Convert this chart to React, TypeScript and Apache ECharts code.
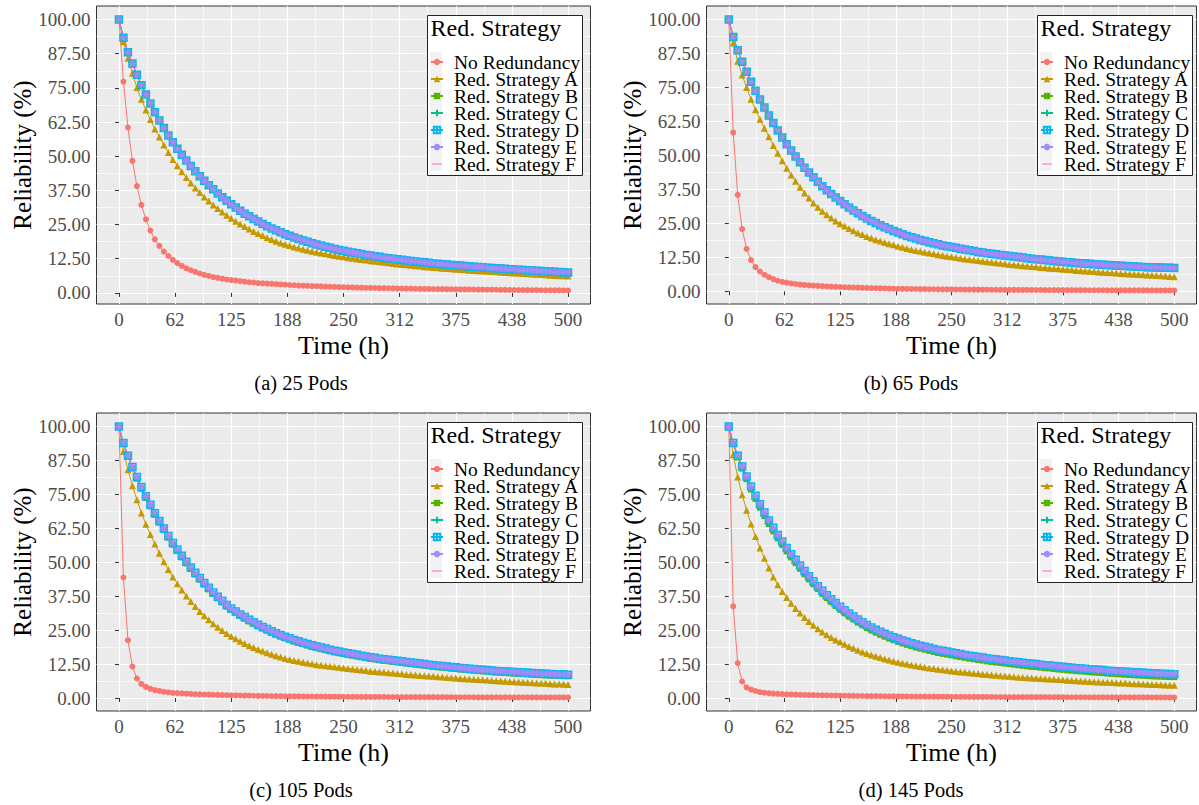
import React, { useEffect, useRef } from 'react';
import * as echarts from 'echarts';

// ---------- data ----------
const time = [
  0, 5, 10, 15, 20, 25, 30, 35, 40, 45,
  50, 55, 60, 65, 70, 75, 80, 85, 90, 95,
  100, 105, 110, 115, 120, 125, 130, 135, 140, 145,
  150, 155, 160, 165, 170, 175, 180, 185, 190, 195,
  200, 205, 210, 215, 220, 225, 230, 235, 240, 245,
  250, 255, 260, 265, 270, 275, 280, 285, 290, 295,
  300, 305, 310, 315, 320, 325, 330, 335, 340, 345,
  350, 355, 360, 365, 370, 375, 380, 385, 390, 395,
  400, 405, 410, 415, 420, 425, 430, 435, 440, 445,
  450, 455, 460, 465, 470, 475, 480, 485, 490, 495, 500,
];

// 25 Pods
const pods25NoRed = [
  100, 77.3, 60.5, 48.3, 39.1, 32.2, 26.9, 22.8, 19.6, 17.2,
  15.1, 13.5, 12.1, 10.9, 9.9, 9.0, 8.3, 7.7, 7.1, 6.6,
  6.2, 5.8, 5.5, 5.2, 4.9, 4.7, 4.5, 4.3, 4.1, 3.9,
  3.8, 3.6, 3.5, 3.4, 3.3, 3.2, 3.1, 3.0, 2.9, 2.8,
  2.7, 2.65, 2.6, 2.5, 2.45, 2.4, 2.3, 2.25, 2.2, 2.15,
  2.1, 2.05, 2.0, 1.95, 1.9, 1.87, 1.83, 1.8, 1.76, 1.73,
  1.7, 1.67, 1.64, 1.61, 1.58, 1.56, 1.53, 1.5, 1.48, 1.46,
  1.44, 1.41, 1.39, 1.37, 1.35, 1.33, 1.31, 1.29, 1.27, 1.25,
  1.23, 1.21, 1.19, 1.17, 1.15, 1.13, 1.11, 1.09, 1.07, 1.05,
  1.04, 1.02, 1.0, 0.99, 0.97, 0.96, 0.94, 0.93, 0.92, 0.91, 0.9,
];
const pods25A = [
  100, 91.9, 85.8, 80.4, 75.1, 70.8, 66.9, 63.4, 60.0, 57.0,
  54.1, 51.4, 48.8, 46.5, 44.3, 42.2, 40.2, 38.4, 36.7, 35.1,
  33.6, 32.2, 30.9, 29.6, 28.4, 27.3, 26.2, 25.2, 24.3, 23.4,
  22.5, 21.7, 21.0, 20.2, 19.5, 18.9, 18.3, 17.8, 17.3, 16.8,
  16.4, 16.0, 15.6, 15.2, 14.9, 14.6, 14.3, 14.0, 13.7, 13.4,
  13.2, 12.9, 12.7, 12.4, 12.2, 12.0, 11.8, 11.6, 11.4, 11.2,
  11.0, 10.8, 10.6, 10.4, 10.3, 10.1, 9.9, 9.8, 9.6, 9.5,
  9.3, 9.2, 9.0, 8.9, 8.8, 8.7, 8.6, 8.5, 8.3, 8.2,
  8.1, 8.0, 7.9, 7.8, 7.7, 7.6, 7.5, 7.4, 7.3, 7.2,
  7.1, 7.0, 6.9, 6.8, 6.7, 6.6, 6.5, 6.4, 6.3, 6.25, 6.2,
];
const pods25Upper = [
  100, 93.3, 88.0, 83.9, 79.8, 76.0, 72.6, 69.3, 66.1, 63.1,
  60.3, 57.6, 55.1, 52.7, 50.5, 48.4, 46.4, 44.5, 42.7, 41.0,
  39.4, 37.9, 36.4, 35.0, 33.7, 32.4, 31.2, 30.1, 29.0, 28.0,
  27.0, 26.1, 25.2, 24.4, 23.6, 22.9, 22.2, 21.5, 20.9, 20.3,
  19.7, 19.2, 18.7, 18.2, 17.7, 17.3, 16.9, 16.5, 16.1, 15.7,
  15.4, 15.1, 14.8, 14.5, 14.2, 13.9, 13.7, 13.4, 13.2, 12.9,
  12.7, 12.5, 12.3, 12.1, 11.9, 11.7, 11.5, 11.3, 11.2, 11.0,
  10.8, 10.7, 10.5, 10.4, 10.2, 10.1, 10.0, 9.8, 9.7, 9.6,
  9.5, 9.4, 9.2, 9.1, 9.0, 8.9, 8.8, 8.7, 8.6, 8.5,
  8.4, 8.3, 8.2, 8.1, 8.0, 7.9, 7.8, 7.7, 7.65, 7.6, 7.5,
];

// 65 Pods
const pods65NoRed = [
  100, 58.4, 35.5, 22.9, 15.6, 11.5, 8.9, 7.3, 6.1, 5.2,
  4.5, 3.9, 3.5, 3.2, 2.9, 2.7, 2.5, 2.35, 2.2, 2.1,
  2.0, 1.9, 1.8, 1.7, 1.65, 1.6, 1.5, 1.45, 1.4, 1.35,
  1.3, 1.25, 1.2, 1.15, 1.1, 1.05, 1.0, 0.98, 0.95, 0.92,
  0.9, 0.87, 0.85, 0.82, 0.8, 0.78, 0.76, 0.74, 0.72, 0.71,
  0.7, 0.68, 0.67, 0.65, 0.64, 0.63, 0.62, 0.6, 0.59, 0.58,
  0.57, 0.56, 0.55, 0.54, 0.53, 0.52, 0.51, 0.5, 0.5, 0.49,
  0.48, 0.47, 0.46, 0.46, 0.45, 0.44, 0.44, 0.43, 0.42, 0.42,
  0.41, 0.4, 0.4, 0.39, 0.39, 0.38, 0.38, 0.37, 0.37, 0.36,
  0.36, 0.35, 0.35, 0.34, 0.34, 0.34, 0.33, 0.33, 0.32, 0.32, 0.32,
];
const pods65A = [
  100, 91.4, 84.7, 79.6, 75.0, 70.7, 66.8, 63.3, 60.0, 56.9,
  53.7, 50.8, 48.0, 45.3, 42.8, 40.5, 38.3, 36.2, 34.3, 32.5,
  30.9, 29.5, 28.2, 27.0, 25.9, 24.9, 24.0, 23.1, 22.3, 21.5,
  20.9, 20.2, 19.6, 19.0, 18.5, 18.0, 17.5, 17.1, 16.6, 16.2,
  15.8, 15.4, 15.0, 14.7, 14.4, 14.1, 13.8, 13.5, 13.2, 12.9,
  12.7, 12.4, 12.2, 11.9, 11.7, 11.5, 11.3, 11.1, 10.9, 10.7,
  10.5, 10.3, 10.1, 9.9, 9.8, 9.6, 9.4, 9.3, 9.1, 9.0,
  8.8, 8.7, 8.5, 8.4, 8.3, 8.1, 8.0, 7.9, 7.7, 7.6,
  7.5, 7.4, 7.3, 7.1, 7.0, 6.9, 6.8, 6.7, 6.6, 6.5,
  6.4, 6.3, 6.2, 6.1, 6.0, 5.9, 5.8, 5.7, 5.6, 5.5, 5.4,
];
const pods65Upper = [
  100, 93.6, 88.7, 84.5, 80.8, 77.1, 73.8, 70.6, 67.6, 64.7,
  61.9, 59.2, 56.6, 54.1, 51.8, 49.6, 47.5, 45.5, 43.7, 42.0,
  40.3, 38.7, 37.2, 35.8, 34.5, 33.2, 32.0, 30.8, 29.7, 28.7,
  27.7, 26.8, 25.9, 25.1, 24.3, 23.6, 22.9, 22.2, 21.6, 21.0,
  20.4, 19.9, 19.4, 18.9, 18.5, 18.1, 17.7, 17.3, 16.9, 16.6,
  16.3, 16.0, 15.7, 15.4, 15.1, 14.8, 14.5, 14.3, 14.0, 13.8,
  13.6, 13.4, 13.2, 13.0, 12.8, 12.6, 12.4, 12.2, 12.0, 11.8,
  11.7, 11.5, 11.3, 11.2, 11.0, 10.9, 10.7, 10.6, 10.4, 10.3,
  10.2, 10.1, 10.0, 9.9, 9.8, 9.7, 9.6, 9.5, 9.4, 9.3,
  9.2, 9.1, 9.0, 8.95, 8.9, 8.85, 8.8, 8.75, 8.7, 8.65, 8.6,
];

// 105 Pods
const pods105NoRed = [
  100, 44.4, 21.3, 11.6, 7.2, 5.2, 4.1, 3.4, 2.9, 2.6,
  2.3, 2.1, 1.9, 1.8, 1.7, 1.6, 1.5, 1.4, 1.35, 1.3,
  1.25, 1.2, 1.15, 1.1, 1.05, 1.0, 0.96, 0.92, 0.89, 0.86,
  0.83, 0.8, 0.77, 0.75, 0.72, 0.7, 0.68, 0.66, 0.64, 0.62,
  0.6, 0.59, 0.57, 0.56, 0.54, 0.53, 0.52, 0.5, 0.49, 0.48,
  0.47, 0.46, 0.45, 0.44, 0.43, 0.42, 0.41, 0.4, 0.4, 0.39,
  0.38, 0.37, 0.37, 0.36, 0.35, 0.35, 0.34, 0.34, 0.33, 0.32,
  0.32, 0.31, 0.31, 0.3, 0.3, 0.29, 0.29, 0.29, 0.28, 0.28,
  0.27, 0.27, 0.27, 0.26, 0.26, 0.25, 0.25, 0.25, 0.24, 0.24,
  0.24, 0.23, 0.23, 0.23, 0.22, 0.22, 0.22, 0.22, 0.21, 0.21, 0.21,
];
const pods105A = [
  100, 90.8, 84.1, 78.2, 73.0, 68.2, 64.0, 60.2, 56.7, 53.3,
  50.2, 47.3, 44.6, 42.1, 39.8, 37.6, 35.6, 33.7, 31.9, 30.3,
  28.8, 27.4, 26.1, 24.9, 23.8, 22.8, 21.8, 20.9, 20.1, 19.3,
  18.6, 17.9, 17.3, 16.7, 16.1, 15.6, 15.1, 14.6, 14.2, 13.8,
  13.5, 13.2, 12.9, 12.6, 12.3, 12.1, 11.9, 11.7, 11.5, 11.3,
  11.1, 10.9, 10.7, 10.5, 10.3, 10.1, 9.9, 9.8, 9.6, 9.5,
  9.3, 9.2, 9.0, 8.9, 8.7, 8.6, 8.5, 8.3, 8.2, 8.1,
  8.0, 7.8, 7.7, 7.6, 7.5, 7.4, 7.2, 7.1, 7.0, 6.9,
  6.8, 6.7, 6.6, 6.5, 6.4, 6.3, 6.2, 6.1, 6.0, 5.9,
  5.8, 5.7, 5.6, 5.5, 5.45, 5.4, 5.3, 5.2, 5.15, 5.1, 5.0,
];
const pods105B = [
  100, 93.7, 88.8, 84.6, 80.8, 77.1, 73.7, 70.6, 67.5, 64.6,
  61.8, 59.1, 56.5, 54.1, 51.8, 49.6, 47.5, 45.5, 43.6, 41.8,
  40.0, 38.3, 36.7, 35.2, 33.7, 32.4, 31.3, 30.2, 29.2, 28.2,
  27.3, 26.4, 25.6, 24.8, 24.0, 23.3, 22.6, 22.0, 21.4, 20.8,
  20.3, 19.8, 19.3, 18.8, 18.4, 18.0, 17.6, 17.2, 16.8, 16.5,
  16.2, 15.9, 15.6, 15.3, 15.0, 14.7, 14.4, 14.2, 13.9, 13.7,
  13.5, 13.3, 13.1, 12.9, 12.7, 12.5, 12.3, 12.1, 11.9, 11.7,
  11.5, 11.3, 11.2, 11.0, 10.8, 10.7, 10.5, 10.4, 10.2, 10.1,
  9.9, 9.8, 9.7, 9.5, 9.4, 9.3, 9.2, 9.1, 9.0, 8.9,
  8.8, 8.7, 8.6, 8.5, 8.4, 8.3, 8.25, 8.2, 8.1, 8.05, 8.0,
];
const pods105Upper = [
  100, 93.9, 89.2, 85.1, 81.4, 77.7, 74.3, 71.2, 68.1, 65.2,
  62.4, 59.7, 57.1, 54.7, 52.4, 50.2, 48.1, 46.1, 44.2, 42.4,
  40.6, 38.9, 37.3, 35.8, 34.3, 33.0, 31.9, 30.8, 29.8, 28.8,
  27.9, 27.0, 26.2, 25.4, 24.6, 23.9, 23.2, 22.6, 22.0, 21.4,
  20.9, 20.4, 19.9, 19.4, 19.0, 18.6, 18.2, 17.8, 17.4, 17.1,
  16.8, 16.5, 16.2, 15.9, 15.6, 15.3, 15.0, 14.8, 14.5, 14.3,
  14.1, 13.9, 13.7, 13.5, 13.3, 13.1, 12.9, 12.7, 12.5, 12.3,
  12.1, 11.9, 11.8, 11.6, 11.4, 11.3, 11.1, 11.0, 10.8, 10.7,
  10.5, 10.4, 10.3, 10.1, 10.0, 9.9, 9.8, 9.7, 9.6, 9.5,
  9.4, 9.3, 9.2, 9.1, 9.0, 8.9, 8.85, 8.8, 8.7, 8.65, 8.6,
];

// 145 Pods
const pods145NoRed = [
  100, 33.8, 12.9, 6.1, 3.9, 3.1, 2.6, 2.2, 1.95, 1.8,
  1.65, 1.55, 1.45, 1.38, 1.32, 1.26, 1.2, 1.15, 1.11, 1.07,
  1.03, 1.0, 0.97, 0.94, 0.91, 0.88, 0.85, 0.83, 0.8, 0.78,
  0.76, 0.74, 0.72, 0.7, 0.68, 0.66, 0.65, 0.63, 0.62, 0.6,
  0.59, 0.58, 0.56, 0.55, 0.54, 0.53, 0.52, 0.51, 0.5, 0.49,
  0.48, 0.47, 0.46, 0.45, 0.44, 0.43, 0.42, 0.42, 0.41, 0.4,
  0.39, 0.39, 0.38, 0.37, 0.37, 0.36, 0.35, 0.35, 0.34, 0.34,
  0.33, 0.33, 0.32, 0.32, 0.31, 0.31, 0.3, 0.3, 0.29, 0.29,
  0.29, 0.28, 0.28, 0.27, 0.27, 0.27, 0.26, 0.26, 0.26, 0.25,
  0.25, 0.25, 0.24, 0.24, 0.24, 0.23, 0.23, 0.23, 0.23, 0.22, 0.22,
];
const pods145A = [
  100, 89.6, 81.4, 74.9, 69.2, 64.1, 59.5, 55.3, 51.5, 47.9,
  44.6, 41.7, 39.2, 37.0, 34.9, 33.0, 31.3, 29.7, 28.2, 26.8,
  25.5, 24.3, 23.3, 22.3, 21.4, 20.6, 19.8, 19.0, 18.3, 17.6,
  17.0, 16.4, 15.9, 15.4, 14.9, 14.4, 14.0, 13.6, 13.2, 12.8,
  12.5, 12.2, 11.9, 11.6, 11.3, 11.1, 10.9, 10.6, 10.4, 10.2,
  10.0, 9.8, 9.6, 9.5, 9.3, 9.1, 9.0, 8.8, 8.7, 8.5,
  8.4, 8.2, 8.1, 8.0, 7.8, 7.7, 7.6, 7.5, 7.4, 7.3,
  7.2, 7.1, 7.0, 6.9, 6.8, 6.7, 6.6, 6.5, 6.4, 6.3,
  6.2, 6.1, 6.0, 5.9, 5.85, 5.8, 5.7, 5.6, 5.55, 5.5,
  5.4, 5.3, 5.25, 5.2, 5.1, 5.0, 4.95, 4.9, 4.8, 4.75, 4.7,
];
const pods145B = [
  100, 93.6, 88.6, 84.5, 80.6, 76.8, 73.3, 70.1, 67.0, 64.1,
  61.4, 58.8, 56.4, 54.0, 51.8, 49.7, 47.6, 45.6, 43.7, 41.9,
  40.1, 38.4, 36.8, 35.3, 33.9, 32.5, 31.2, 30.0, 28.9, 27.8,
  26.8, 25.8, 24.9, 24.1, 23.3, 22.6, 21.9, 21.3, 20.7, 20.1,
  19.6, 19.1, 18.6, 18.2, 17.8, 17.4, 17.0, 16.6, 16.3, 16.0,
  15.7, 15.4, 15.1, 14.8, 14.5, 14.3, 14.0, 13.8, 13.5, 13.3,
  13.1, 12.9, 12.7, 12.5, 12.3, 12.1, 11.9, 11.7, 11.5, 11.4,
  11.2, 11.0, 10.9, 10.7, 10.5, 10.4, 10.2, 10.1, 9.9, 9.8,
  9.7, 9.5, 9.4, 9.3, 9.2, 9.0, 8.9, 8.8, 8.7, 8.6,
  8.5, 8.4, 8.3, 8.2, 8.1, 8.0, 7.95, 7.9, 7.8, 7.75, 7.7,
];
const pods145Upper = [
  100, 93.9, 89.2, 85.3, 81.6, 77.9, 74.5, 71.4, 68.3, 65.4,
  62.7, 60.1, 57.7, 55.3, 53.0, 50.9, 48.8, 46.8, 44.9, 43.0,
  41.2, 39.5, 37.9, 36.4, 35.0, 33.6, 32.3, 31.1, 30.0, 28.9,
  27.9, 26.9, 26.0, 25.2, 24.4, 23.7, 23.0, 22.4, 21.8, 21.2,
  20.7, 20.2, 19.7, 19.3, 18.9, 18.5, 18.1, 17.7, 17.4, 17.1,
  16.8, 16.5, 16.2, 15.9, 15.6, 15.4, 15.1, 14.9, 14.6, 14.4,
  14.2, 14.0, 13.8, 13.6, 13.4, 13.2, 13.0, 12.8, 12.6, 12.5,
  12.3, 12.1, 12.0, 11.8, 11.6, 11.5, 11.3, 11.2, 11.0, 10.9,
  10.8, 10.6, 10.5, 10.4, 10.3, 10.1, 10.0, 9.9, 9.8, 9.7,
  9.6, 9.5, 9.4, 9.3, 9.2, 9.1, 9.0, 8.95, 8.9, 8.85, 8.8,
];

const seriesNames = [
  'No Redundancy',
  'Red. Strategy A',
  'Red. Strategy B',
  'Red. Strategy C',
  'Red. Strategy D',
  'Red. Strategy E',
  'Red. Strategy F',
];
const captions = ['(a) 25 Pods', '(b) 65 Pods', '(c) 105 Pods', '(d) 145 Pods'];
const legendTitle = 'Red. Strategy';
const xTitle = 'Time (h)';
const yTitle = 'Reliability (%)';

const xTicks = [0, 62.5, 125, 187.5, 250, 312.5, 375, 437.5, 500];
const xTickLabels = ['0', '62', '125', '188', '250', '312', '375', '438', '500'];
const xMinor = [31.25, 93.75, 156.25, 218.75, 281.25, 343.75, 406.25, 468.75];
const yTicks = [0, 12.5, 25, 37.5, 50, 62.5, 75, 87.5, 100];
const yTickLabels = ['0.00', '12.50', '25.00', '37.50', '50.00', '62.50', '75.00', '87.50', '100.00'];
const yMinor = [6.25, 18.75, 31.25, 43.75, 56.25, 68.75, 81.25, 93.75];

// per panel: values for each of the 7 series
const panelValues = [
  [pods25NoRed, pods25A, pods25Upper, pods25Upper, pods25Upper, pods25Upper, pods25Upper],
  [pods65NoRed, pods65A, pods65Upper, pods65Upper, pods65Upper, pods65Upper, pods65Upper],
  [pods105NoRed, pods105A, pods105B, pods105Upper, pods105Upper, pods105Upper, pods105Upper],
  [pods145NoRed, pods145A, pods145B, pods145Upper, pods145Upper, pods145Upper, pods145Upper],
];

// ---------- styles / layout ----------
const FONT = '"Liberation Serif", "Times New Roman", serif';
const COLORS = ['#F8766D', '#C49A00', '#53B400', '#00C094', '#00B6EB', '#A58AFF', '#FB61D7'];
const PLUS = 'path://M0,-5L0,5M-5,0L5,0';
const BOXPLUS = 'path://M-5,-5L5,-5L5,5L-5,5Z M0,-5L0,5 M-5,0L5,0';
const ASTER = 'path://M0,-5L0,5M-5,0L5,0M-3.6,-3.6L3.6,3.6M-3.6,3.6L3.6,-3.6';
const DASH_ICON = 'path://M0,0L0.01,0 M0,4.3L12,4.3L12,5.7L0,5.7Z M0,10L0.01,10';

const PANELS = [
  { left: 96.5, top: 6, width: 494, legendLeft: 427, legendTop: 15, yTitleX: 22, capX: 301 },
  { left: 706.5, top: 6, width: 490, legendLeft: 1037, legendTop: 15, yTitleX: 632, capX: 911 },
  { left: 96.5, top: 413, width: 494, legendLeft: 427, legendTop: 422, yTitleX: 22, capX: 301 },
  { left: 706.5, top: 413, width: 490, legendLeft: 1037, legendTop: 422, yTitleX: 632, capX: 911 },
];
const PANEL_H = 298;
const LEGEND_W = 155;
const LEGEND_H = 160;

function seriesStyle(i: number) {
  const c = COLORS[i];
  const base: any = {
    lineStyle: { color: c, width: 1 },
    itemStyle: { color: c },
  };
  switch (i) {
    case 0: return { ...base, symbol: 'circle', symbolSize: 6 };
    case 1: return { ...base, symbol: 'triangle', symbolSize: 7 };
    case 2: return { ...base, symbol: 'rect', symbolSize: 6 };
    case 3: return { ...base, symbol: PLUS, symbolSize: 7, itemStyle: { color: 'rgba(0,0,0,0)', borderColor: c, borderWidth: 1.3 } };
    case 4: return { ...base, symbol: BOXPLUS, symbolSize: 7, itemStyle: { color: 'rgba(0,0,0,0)', borderColor: c, borderWidth: 1.5 } };
    case 5: return { ...base, symbol: ASTER, symbolSize: 7.5, itemStyle: { color: 'rgba(0,0,0,0)', borderColor: c, borderWidth: 1.2 } };
    default: return { ...base, symbol: 'none' };
  }
}

function buildOption() {
  const grid: any[] = [];
  const xAxis: any[] = [];
  const yAxis: any[] = [];
  const series: any[] = [];
  const legend: any[] = [];
  const graphic: any[] = [];

  PANELS.forEach((p, pi) => {
    grid.push({
      left: p.left, top: p.top, width: p.width, height: PANEL_H,
      show: true, backgroundColor: '#EBEBEB', borderColor: '#333333', borderWidth: 1,
      containLabel: false, outerBoundsMode: 'none',
    });
    const vals = panelValues[pi];
    const dMin = Math.min(...vals[0]);
    const span = 100 - dMin;
    const yMin = dMin - 0.05 * span;
    const yMax = 100 + 0.05 * span;

    xAxis.push({
      type: 'value', gridIndex: pi, min: -25, max: 525, position: 'bottom',
      axisLine: { show: false },
      axisTick: { show: true, length: 4, customValues: xTicks, lineStyle: { color: '#333333', width: 1 } },
      axisLabel: {
        customValues: xTicks, margin: 6, color: '#4D4D4D', fontFamily: FONT, fontSize: 19,
        formatter: (v: number) => { const k = xTicks.indexOf(v); return k >= 0 ? xTickLabels[k] : ''; },
      },
      splitLine: { show: true, lineStyle: { color: '#FFFFFF', width: 1.2 } },
    });
    xAxis.push({
      type: 'value', gridIndex: pi, min: -25, max: 525, position: 'top',
      axisLine: { show: false },
      axisTick: { show: false, customValues: xMinor },
      axisLabel: { show: false, customValues: xMinor },
      splitLine: { show: true, lineStyle: { color: '#FFFFFF', width: 0.6 } },
    });
    yAxis.push({
      type: 'value', gridIndex: pi, min: yMin, max: yMax, position: 'left',
      axisLine: { show: false },
      axisTick: { show: true, length: 4, customValues: yTicks, lineStyle: { color: '#333333', width: 1 } },
      axisLabel: {
        customValues: yTicks, margin: 6, color: '#4D4D4D', fontFamily: FONT, fontSize: 19,
        formatter: (v: number) => { const k = yTicks.indexOf(v); return k >= 0 ? yTickLabels[k] : ''; },
      },
      splitLine: { show: true, lineStyle: { color: '#FFFFFF', width: 1.2 } },
    });
    yAxis.push({
      type: 'value', gridIndex: pi, min: yMin, max: yMax, position: 'right',
      axisLine: { show: false },
      axisTick: { show: false, customValues: yMinor },
      axisLabel: { show: false, customValues: yMinor },
      splitLine: { show: true, lineStyle: { color: '#FFFFFF', width: 0.6 } },
    });

    seriesNames.forEach((name, si) => {
      series.push({
        type: 'line', name,
        xAxisIndex: pi * 2, yAxisIndex: pi * 2,
        data: time.map((t, k) => [t, vals[si][k]]),
        showAllSymbol: true,
        ...seriesStyle(si),
        emphasis: { disabled: true },
        silent: true,
        z: 3,
      });
    });

    // legend box + key column (drawn under the legend items)
    graphic.push({
      type: 'rect', z: 5, silent: true,
      shape: { x: p.legendLeft + 0.5, y: p.legendTop + 0.5, width: LEGEND_W, height: LEGEND_H },
      style: { fill: '#FFFFFF', stroke: '#222222', lineWidth: 1 },
    });
    graphic.push({
      type: 'rect', z: 6, silent: true,
      shape: { x: p.legendLeft + 3, y: p.legendTop + 37, width: 12, height: 119 },
      style: { fill: '#F2F2F2' },
    });

    legend.push({
      orient: 'vertical', left: p.legendLeft, top: p.legendTop,
      data: seriesNames.map((n, si) => (si === 6 ? { name: n, icon: DASH_ICON } : { name: n })),
      selectedMode: false,
      itemWidth: 12, itemHeight: 8, itemGap: -3,
      padding: [37, 4, 3, 3],
      backgroundColor: 'transparent', borderWidth: 0,
      textStyle: { fontFamily: FONT, fontSize: 19.5, color: '#000000', padding: [0, 0, 0, 6] },
      z: 10,
    });

    graphic.push({
      type: 'text', x: p.legendLeft + 3.5, y: p.legendTop + 13, z: 100,
      style: { text: legendTitle, fontFamily: FONT, fontSize: 24, fill: '#000', align: 'left', verticalAlign: 'middle', textAlign: 'left', textVerticalAlign: 'middle' },
    });
    graphic.push({
      type: 'text', x: p.left + p.width / 2, y: p.top + 339, z: 100,
      style: { text: xTitle, fontFamily: FONT, fontSize: 26, fill: '#000', align: 'center', verticalAlign: 'middle', textAlign: 'center', textVerticalAlign: 'middle' },
    });
    graphic.push({
      type: 'text', x: p.yTitleX, y: p.top + PANEL_H / 2, rotation: Math.PI / 2, z: 100,
      style: { text: yTitle, fontFamily: FONT, fontSize: 25, fill: '#000', align: 'center', verticalAlign: 'middle', textAlign: 'center', textVerticalAlign: 'middle' },
    });
    graphic.push({
      type: 'text', x: p.capX, y: p.top + 377, z: 100,
      style: { text: captions[pi], fontFamily: FONT, fontSize: 20.5, fill: '#000', align: 'center', verticalAlign: 'middle', textAlign: 'center', textVerticalAlign: 'middle' },
    });
  });

  return {
    animation: false,
    backgroundColor: '#FFFFFF',
    textStyle: { fontFamily: FONT },
    grid, xAxis, yAxis, series, legend, graphic,
  };
}

export default function App() {
  const ref = useRef<HTMLDivElement>(null);
  useEffect(() => {
    if (!ref.current) return;
    const chart = echarts.init(ref.current, undefined, { renderer: 'svg' });
    chart.setOption(buildOption() as any);
    return () => chart.dispose();
  }, []);
  return (
    <div
      ref={ref}
      style={{ position: 'fixed', left: 0, top: 0, width: 1199, height: 805 }}
    />
  );
}
